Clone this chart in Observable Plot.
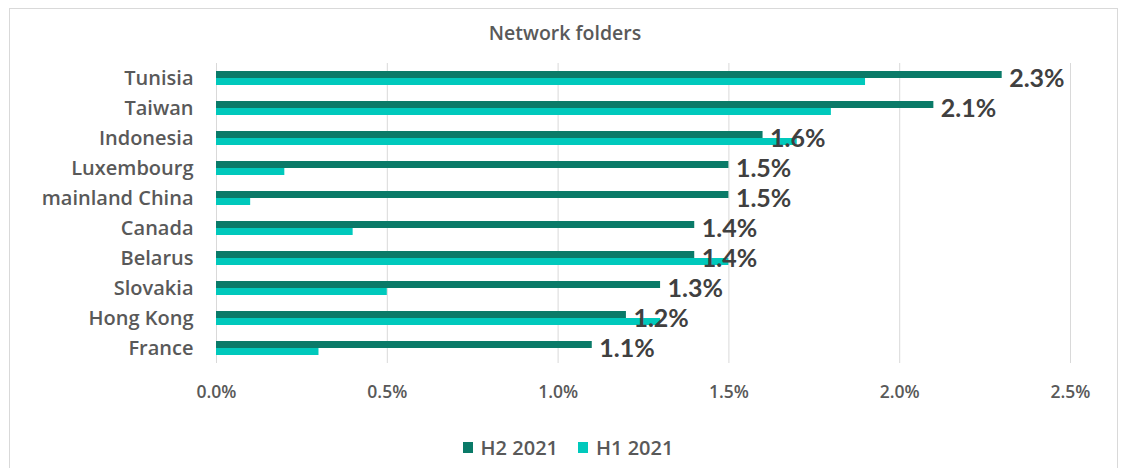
<!DOCTYPE html>
<html>
<head>
<meta charset="utf-8">
<script src="https://cdn.jsdelivr.net/npm/d3@7"></script>
<script src="https://cdn.jsdelivr.net/npm/@observablehq/plot@0.6"></script>
<style>
  html, body { margin: 0; padding: 0; background: #fff; }
  body { width: 1124px; height: 468px; overflow: hidden; position: relative; font-family: "Open Sans", sans-serif; }
  #frame { position: absolute; left: 9px; top: 8px; width: 1109px; height: 480px; border: 1px solid #d9d9d9; box-sizing: border-box; }
  #title { position: absolute; left: 0; top: 19px; width: 1130px; text-align: center; font-size: 19.5px; font-weight: 600; color: #595959; }
  #chart { position: absolute; left: 0; top: 50px; }
  #legend { position: absolute; left: 0; top: 434px; width: 1136px; display: flex; justify-content: center; gap: 20px; font-size: 20px; font-weight: 600; color: #595959; }
  .item { display: flex; align-items: center; gap: 8px; }
  .sw { width: 10px; height: 11px; display: inline-block; }
</style>
</head>
<body>
<div id="frame"></div>
<div id="title">Network folders</div>
<div id="chart"></div>
<div id="legend"></div>
<script>
const countries = ["Tunisia", "Taiwan", "Indonesia", "Luxembourg", "mainland China", "Canada", "Belarus", "Slovakia", "Hong Kong", "France"];
const h2_2021 = [2.3, 2.1, 1.6, 1.5, 1.5, 1.4, 1.4, 1.3, 1.2, 1.1];
const h1_2021 = [1.9, 1.8, 1.7, 0.2, 0.1, 0.4, 1.5, 0.5, 1.3, 0.3];
const seriesNames = ["H2 2021", "H1 2021"];
const seriesColors = ["#0a7a68", "#00c9bc"];
const xTicks = [0, 0.5, 1.0, 1.5, 2.0, 2.5];

const rows = [];
countries.forEach((c, i) => {
  rows.push({country: c, series: seriesNames[0], value: h2_2021[i]});
  rows.push({country: c, series: seriesNames[1], value: h1_2021[i]});
});
const labels = countries.map((c, i) => ({country: c, value: h2_2021[i]}));

const fmt = d => d.toFixed(1) + "%";

const chart = Plot.plot({
  width: 1124,
  height: 360,
  marginTop: 11,
  marginBottom: 46,
  marginLeft: 216,
  marginRight: 54,
  style: {fontFamily: "'Open Sans', sans-serif", background: "transparent"},
  x: {domain: [0, 2.5], ticks: xTicks, tickFormat: fmt},
  y: {domain: seriesNames, axis: null, paddingInner: 0, paddingOuter: 0.89},
  fy: {domain: countries, padding: 0},
  color: {domain: seriesNames, range: seriesColors},
  marks: [
    Plot.gridX(xTicks, {stroke: "#d9d9d9", strokeOpacity: 1, strokeWidth: 1}),
    Plot.barX(rows, {x: "value", y: "series", fy: "country", fill: "series"}),
    Plot.text(labels, {x: "value", fy: "country", text: d => fmt(d.value), textAnchor: "start", dx: 7, fontSize: 25, fontWeight: 700, fill: "#404040", fontFamily: "Lato, sans-serif"}),
    Plot.axisX(xTicks, {tickSize: 0, tickPadding: 22, tickFormat: fmt, fontSize: 17.5, fontWeight: 600, fill: "#595959", label: null, facetAnchor: "bottom"}),
    Plot.axisFy({anchor: "left", tickSize: 0, tickPadding: 23, fontSize: 20, fontWeight: 600, fill: "#595959", label: null})
  ]
});
document.getElementById("chart").appendChild(chart);

const legend = document.getElementById("legend");
seriesNames.forEach((s, i) => {
  const item = document.createElement("span");
  item.className = "item";
  const sw = document.createElement("span");
  sw.className = "sw";
  sw.style.background = seriesColors[i];
  const t = document.createElement("span");
  t.textContent = s;
  item.appendChild(sw);
  item.appendChild(t);
  legend.appendChild(item);
});
</script>
</body>
</html>
